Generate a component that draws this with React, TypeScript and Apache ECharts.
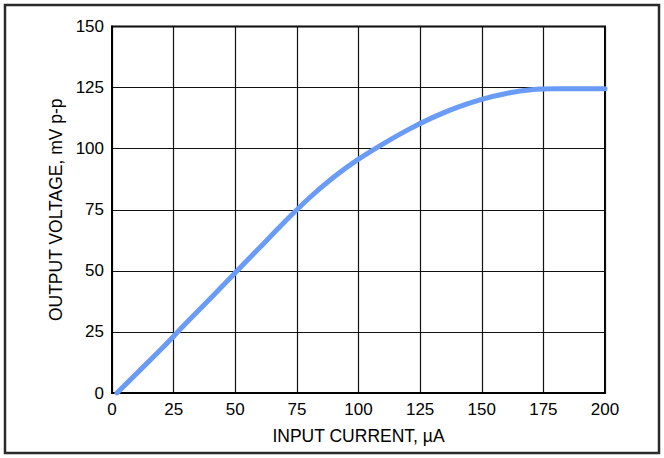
import React, { useEffect, useRef } from "react";
import * as echarts from "echarts";

const xTicks = [0, 25, 50, 75, 100, 125, 150, 175, 200];
const yTicks = [0, 25, 50, 75, 100, 125, 150];
const inputCurrent = [2, 10, 20, 30, 40, 50, 60, 70, 80, 90, 100, 110, 120, 130, 140, 150, 160, 170, 180, 190, 200];
const outputVoltage = [0, 8, 18, 28.5, 38.8, 49.2, 59.6, 70, 79.8, 88.4, 95.7, 102, 107.7, 112.7, 116.9, 120.2, 122.6, 124.1, 124.5, 124.5, 124.5];
const xName = "INPUT CURRENT, µA";
const yName = "OUTPUT VOLTAGE, mV p-p";

const FONT = "'Liberation Sans', Arial, Helvetica, sans-serif";

export default function App() {
  const ref = useRef<HTMLDivElement>(null);
  useEffect(() => {
    if (!ref.current) return;
    const chart = echarts.init(ref.current, null, { renderer: "svg" });
    chart.setOption({
      animation: false,
      backgroundColor: "#ffffff",
      textStyle: { fontFamily: FONT },
      graphic: [
        {
          type: "rect",
          shape: { x: 5, y: 5, width: 654, height: 448 },
          style: { fill: "none", stroke: "#2a2a2a", lineWidth: 2.5 },
          silent: true,
        },
      ],
      grid: {
        left: 112,
        top: 26.5,
        width: 493,
        height: 366.5,
        show: true,
        borderColor: "#000",
        borderWidth: 2,
        backgroundColor: "transparent",
      },
      xAxis: {
        type: "value",
        min: xTicks[0],
        max: xTicks[xTicks.length - 1],
        interval: 25,
        name: xName,
        nameLocation: "middle",
        nameGap: 34,
        nameTextStyle: { color: "#000", fontSize: 17.5, fontFamily: FONT },
        axisLine: { show: true, lineStyle: { color: "#000", width: 2 } },
        axisTick: { show: false },
        axisLabel: { color: "#000", fontSize: 17, margin: 8, fontFamily: FONT },
        splitLine: { show: true, lineStyle: { color: "#111", width: 1.2 } },
      },
      yAxis: {
        type: "value",
        min: yTicks[0],
        max: yTicks[yTicks.length - 1],
        interval: 25,
        name: yName,
        nameLocation: "middle",
        nameGap: 47,
        nameRotate: 90,
        nameTextStyle: { color: "#000", fontSize: 17.5, fontFamily: FONT },
        axisLine: { show: true, lineStyle: { color: "#000", width: 2 } },
        axisTick: { show: false },
        axisLabel: { color: "#000", fontSize: 17, margin: 8, fontFamily: FONT },
        splitLine: { show: true, lineStyle: { color: "#111", width: 1.2 } },
      },
      series: [
        {
          type: "line",
          data: inputCurrent.map((x, i) => [x, outputVoltage[i]]),
          smooth: 0.35,
          showSymbol: false,
          symbol: "none",
          lineStyle: { color: "#6a9bf6", width: 5, cap: "round" },
          clip: true,
        },
      ],
    });
    return () => chart.dispose();
  }, []);
  return (
    <div
      ref={ref}
      style={{ position: "fixed", left: 0, top: 0, width: 664, height: 458, background: "#fff" }}
    />
  );
}
